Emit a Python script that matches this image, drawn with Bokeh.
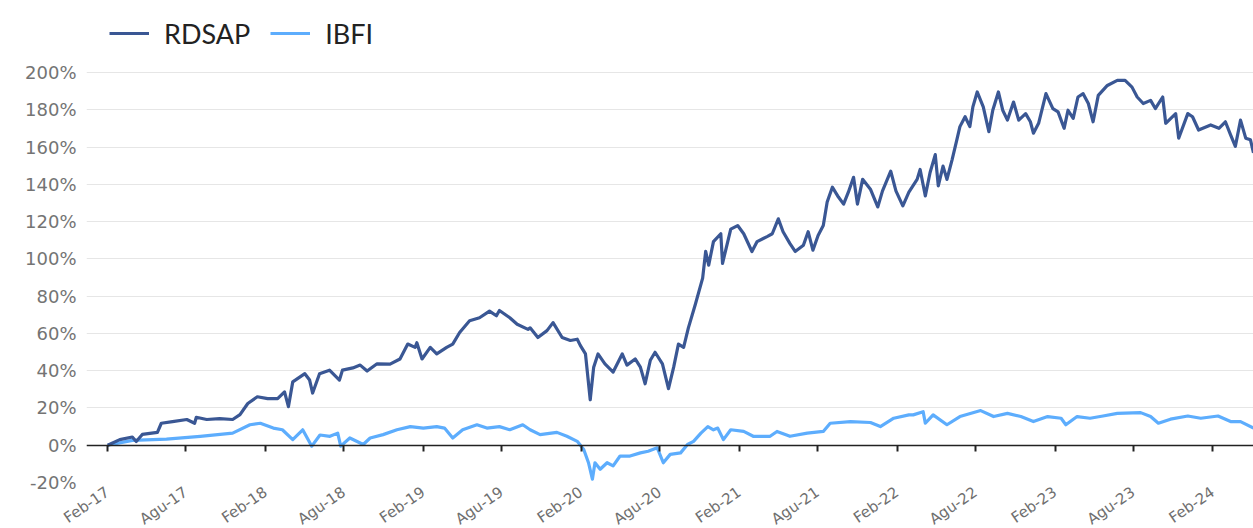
import pandas as pd
from bokeh.plotting import figure
from bokeh.models import (Range1d, FixedTicker, PrintfTickFormatter, CustomJSTickFormatter,
                          DatetimeAxis, Legend, LegendItem, ColumnDataSource)
from bokeh.embed import file_html
from bokeh.resources import INLINE

# ---------------- data ----------------
rdsap_dates = [
    "2017-02-01", "2017-03-01", "2017-03-30", "2017-04-08", "2017-04-22", "2017-05-27", "2017-06-05",
    "2017-07-01", "2017-08-03", "2017-08-21", "2017-08-25", "2017-09-18", "2017-10-18", "2017-11-17",
    "2017-12-04", "2017-12-22", "2018-01-13", "2018-02-06", "2018-03-01", "2018-03-17", "2018-03-26",
    "2018-04-05", "2018-05-03", "2018-05-14", "2018-05-21", "2018-06-06", "2018-06-29", "2018-07-22",
    "2018-07-29", "2018-08-22", "2018-09-08", "2018-09-24", "2018-10-17", "2018-11-16", "2018-12-09",
    "2018-12-27", "2019-01-13", "2019-01-17", "2019-01-29", "2019-02-17", "2019-03-04", "2019-03-27",
    "2019-04-10", "2019-04-26", "2019-05-19", "2019-06-11", "2019-07-04", "2019-07-20", "2019-07-27",
    "2019-08-20", "2019-09-06", "2019-10-01", "2019-10-06", "2019-10-24", "2019-11-14", "2019-11-28",
    "2019-12-19", "2020-01-07", "2020-01-23", "2020-01-30", "2020-02-11", "2020-02-22", "2020-03-01",
    "2020-03-11", "2020-03-27", "2020-04-15", "2020-05-06", "2020-05-17", "2020-06-05", "2020-06-17",
    "2020-06-28", "2020-07-10", "2020-07-21", "2020-08-07", "2020-08-21", "2020-09-02", "2020-09-13",
    "2020-09-25", "2020-10-06", "2020-10-22", "2020-11-08", "2020-11-15", "2020-11-22", "2020-12-03",
    "2020-12-20", "2020-12-24", "2021-01-12", "2021-01-28", "2021-02-11", "2021-03-02", "2021-03-14",
    "2021-04-06", "2021-04-18", "2021-05-02", "2021-05-13", "2021-05-29", "2021-06-10", "2021-06-29",
    "2021-07-10", "2021-07-21", "2021-08-02", "2021-08-14", "2021-08-23", "2021-09-04", "2021-09-18",
    "2021-09-30", "2021-10-11", "2021-10-23", "2021-11-01", "2021-11-13", "2021-12-01", "2021-12-18",
    "2021-12-29", "2022-01-17", "2022-01-29", "2022-02-14", "2022-02-28", "2022-03-19", "2022-03-26",
    "2022-04-07", "2022-04-18", "2022-04-30", "2022-05-07", "2022-05-18", "2022-05-27", "2022-06-08",
    "2022-06-19", "2022-06-26", "2022-07-08", "2022-07-19", "2022-07-26", "2022-08-05", "2022-08-19",
    "2022-09-01", "2022-09-10", "2022-09-23", "2022-10-03", "2022-10-14", "2022-10-28", "2022-11-09",
    "2022-11-25", "2022-12-06", "2022-12-13", "2022-12-25", "2023-01-11", "2023-01-27", "2023-02-08",
    "2023-02-22", "2023-03-03", "2023-03-15", "2023-03-26", "2023-04-07", "2023-04-19", "2023-04-30",
    "2023-05-12", "2023-06-02", "2023-06-25", "2023-07-13", "2023-07-29", "2023-08-10", "2023-08-24",
    "2023-09-10", "2023-09-21", "2023-10-08", "2023-10-15", "2023-11-07", "2023-11-14", "2023-12-05",
    "2023-12-16", "2023-12-30", "2024-01-27", "2024-02-15", "2024-03-01", "2024-03-13", "2024-03-24",
    "2024-04-05", "2024-04-17", "2024-04-28", "2024-05-05",
]
rdsap_values = [
    0, 3, 4.4, 2, 5.8, 6.9, 11.8,
    12.7, 13.8, 11.8, 15, 13.8, 14.3, 13.8,
    16.4, 22.4, 26, 25, 25, 28.6, 20.7,
    34, 38.4, 35, 28, 38.4, 40.3, 35,
    40.3, 41.5, 43, 39.8, 43.7, 43.5, 46.3,
    54.3, 52.5, 55, 46.3, 52.5, 49, 52.5,
    54.3, 60.5, 66.8, 68.4, 72, 69.5, 72.3,
    68.4, 64.9, 62.2, 63, 57.8, 61.5, 65.8,
    57.8, 56.2, 56.9, 53.6, 49, 24.4, 41.9,
    49, 43.7, 39.3, 49, 43, 46.3, 41.9,
    33, 45.6, 49.9, 43.7, 30.4, 41.9, 54.3,
    52.5, 63, 75.5, 89.7, 104, 96.7, 109.3,
    113.5, 97.6, 116, 117.9, 113.5, 104, 109.3,
    112, 113.5, 121.5, 114.6, 108.2, 104, 107.3,
    114.6, 104.7, 112.6, 117.9, 130.5, 138.5, 133.2,
    129.4, 135.8, 143.8, 129.4, 142.7, 137.4, 127.9,
    136.5, 147.1, 136.5, 128.5, 135.8, 142.7, 148,
    133.8, 146.4, 156, 139.2, 149.8, 142.7, 153.3,
    164, 171, 176.3, 171, 181.6, 189.6, 181.6,
    168.3, 179.8, 189.6, 179.8, 174.5, 184.2, 174.5,
    178, 173.6, 167.5, 172.8, 188.7, 180.7, 178.9,
    170.1, 179.8, 175.4, 186.9, 188.7, 183.4, 173.6,
    187.8, 193.1, 195.8, 195.8, 192.2, 186.9, 183.4,
    185.1, 180.7, 186.9, 172.8, 178, 164.8, 178,
    176.3, 169.2, 171.9, 170.1, 173.6, 166.6, 160.4,
    174.5, 164.8, 163.9, 156.9,
]

ibfi_dates = [
    "2017-02-01", "2017-03-30", "2017-06-17", "2017-09-03", "2017-11-17", "2017-12-27", "2018-01-20",
    "2018-02-19", "2018-03-12", "2018-04-05", "2018-04-28", "2018-05-19", "2018-06-07", "2018-06-30",
    "2018-07-18", "2018-07-25", "2018-08-15", "2018-09-08", "2018-09-15", "2018-10-01", "2018-10-31",
    "2018-12-02", "2019-01-02", "2019-02-01", "2019-03-04", "2019-03-22", "2019-04-10", "2019-05-03",
    "2019-06-05", "2019-06-28", "2019-07-27", "2019-08-20", "2019-09-19", "2019-10-06", "2019-10-29",
    "2019-12-07", "2019-12-30", "2020-01-23", "2020-02-07", "2020-02-18", "2020-02-27", "2020-03-04",
    "2020-03-16", "2020-04-01", "2020-04-15", "2020-05-01", "2020-05-24", "2020-06-17", "2020-07-05",
    "2020-07-26", "2020-08-09", "2020-08-25", "2020-09-18", "2020-10-04", "2020-10-18", "2020-11-04",
    "2020-11-20", "2020-12-03", "2020-12-13", "2020-12-26", "2021-01-12", "2021-02-11", "2021-03-05",
    "2021-04-13", "2021-04-29", "2021-05-29", "2021-07-08", "2021-08-14", "2021-08-30", "2021-10-16",
    "2021-12-01", "2021-12-24", "2022-01-24", "2022-02-28", "2022-03-10", "2022-04-02", "2022-04-07",
    "2022-04-25", "2022-05-27", "2022-06-26", "2022-08-13", "2022-09-12", "2022-10-14", "2022-11-14",
    "2022-12-13", "2023-01-15", "2023-02-15", "2023-02-26", "2023-03-24", "2023-04-23", "2023-05-23",
    "2023-06-25", "2023-08-18", "2023-09-10", "2023-09-28", "2023-10-26", "2023-12-05", "2024-01-04",
    "2024-02-13", "2024-03-13", "2024-04-05", "2024-05-05",
]
ibfi_values = [
    0, 2.6, 3.3, 4.8, 6.5, 11, 11.8,
    9.2, 8.3, 3, 8.3, -0.5, 5.5, 4.8,
    6.5, -0.5, 3.9, 1.2, 0.4, 3.9, 5.7,
    8.3, 10, 9.2, 10, 9.2, 3.9, 8.3,
    11, 9.2, 10, 8.3, 11, 8.3, 5.7,
    6.9, 4.8, 2.1, -2.3, -9.4, -18.2, -9.4,
    -12.9, -9.4, -11.1, -5.8, -5.8, -4.1, -3.2,
    -1.4, -9.4, -4.9, -4.1, 0.4, 2.1, 6.5,
    10, 8.3, 9.2, 3, 8.3, 7.4, 4.8,
    4.8, 7.4, 4.8, 6.5, 7.4, 11.8, 12.7,
    12.2, 10, 14.5, 16.3, 16.3, 18, 11.8,
    16.3, 11, 15.4, 18.6, 15.4, 17.1, 15.4,
    12.7, 15.4, 14.5, 11, 15.4, 14.5, 15.7,
    17.1, 17.5, 15.4, 11.8, 14, 15.7, 14.5,
    15.7, 12.7, 12.7, 9.2,
]

tick_dates = [
    "2017-02-01", "2017-08-01", "2018-02-01", "2018-08-01", "2019-02-01", "2019-08-01",
    "2020-02-01", "2020-08-01", "2021-02-01", "2021-08-01", "2022-02-01", "2022-08-01",
    "2023-02-01", "2023-08-01", "2024-02-01",
]
tick_labels = [
    "Feb-17", "Agu-17", "Feb-18", "Agu-18", "Feb-19", "Agu-19", "Feb-20", "Agu-20",
    "Feb-21", "Agu-21", "Feb-22", "Agu-22", "Feb-23", "Agu-23", "Feb-24",
]
y_ticks = [-20, 0, 20, 40, 60, 80, 100, 120, 140, 160, 180, 200]
series_names = ["RDSAP", "IBFI"]

# ---------------- figure ----------------
def ms(d):
    return pd.Timestamp(d).value / 1e6

FW, FH = 1167, 474
p = figure(
    x_axis_type="datetime", output_backend="svg", toolbar_location=None,
    frame_width=FW, frame_height=FH,
    min_border_left=86, min_border_right=0, min_border_top=8, min_border_bottom=0,
    x_range=Range1d(ms("2016-12-14"), ms("2024-05-05")),
    y_range=Range1d(-20, 234.4),
)
p.outline_line_color = None
p.background_fill_color = "white"
p.border_fill_color = "white"

src_r = ColumnDataSource(dict(x=pd.to_datetime(rdsap_dates), y=rdsap_values))
src_i = ColumnDataSource(dict(x=pd.to_datetime(ibfi_dates), y=ibfi_values))
r_rd = p.line("x", "y", source=src_r, line_color="#3A5794", line_width=3.2, line_join="round")
r_ib = p.line("x", "y", source=src_i, line_color="#5DADFD", line_width=3.2, line_join="round")
p.renderers = [r_ib, r_rd]

tick_ms = [ms(d) for d in tick_dates]
xticker = FixedTicker(ticks=tick_ms)
xfmt = CustomJSTickFormatter(args=dict(t=tick_ms, l=tick_labels), code="""
    let best = 0, bd = Infinity;
    for (let i = 0; i < t.length; i++) { const d = Math.abs(t[i] - tick); if (d < bd) { bd = d; best = i; } }
    return bd < 86400000 * 5 ? l[best] : "";
""")

xa = p.xaxis[0]
xa.ticker = xticker
xa.formatter = xfmt
xa.axis_line_color = None
xa.major_tick_line_color = None
xa.minor_tick_line_color = None
xa.major_label_orientation = 0.6
xa.major_label_standoff = 2
xa.major_label_text_font = "DejaVu Sans"
xa.major_label_text_font_size = "15px"
xa.major_label_text_color = "#6f6f6f"

zero_axis = DatetimeAxis(fixed_location=0, ticker=xticker, formatter=xfmt)
zero_axis.axis_line_color = "#222222"
zero_axis.axis_line_width = 1.5
zero_axis.major_tick_line_color = "#222222"
zero_axis.major_tick_line_width = 2
zero_axis.major_tick_in = -6
zero_axis.major_tick_out = 0
zero_axis.minor_tick_line_color = None
zero_axis.major_label_text_font_size = "1px"
zero_axis.major_label_text_color = None
zero_axis.major_label_standoff = 0
p.add_layout(zero_axis, "below")

ya = p.yaxis[0]
ya.ticker = FixedTicker(ticks=y_ticks)
ya.formatter = PrintfTickFormatter(format="%d%%")
ya.axis_line_color = None
ya.major_tick_line_color = None
ya.minor_tick_line_color = None
ya.major_label_standoff = 4
ya.major_label_text_font = "DejaVu Sans"
ya.major_label_text_font_size = "18px"
ya.major_label_text_color = "#747474"

p.xgrid.visible = False
p.ygrid.grid_line_color = "#e6e6e6"
p.ygrid.grid_line_width = 1.2

legend = Legend(
    items=[LegendItem(label=series_names[0], renderers=[r_rd]),
           LegendItem(label=series_names[1], renderers=[r_ib])],
    orientation="horizontal", location=(23, FH - 42),
    glyph_width=40, glyph_height=34, label_height=34, label_standoff=15, spacing=20,
    padding=0, margin=0, border_line_color=None, background_fill_alpha=0,
    label_text_font="Lato", label_text_font_size="27px", label_text_color="#222222",
)
p.add_layout(legend)

open("out.html", "w").write(file_html(p, INLINE))
